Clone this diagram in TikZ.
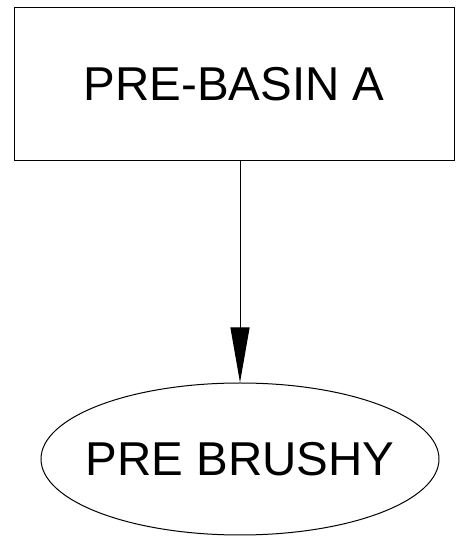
\documentclass[tikz,border=0pt]{standalone}
\usepackage{fontspec}
\setmainfont{Liberation Sans}
\usetikzlibrary{arrows.meta,shapes.geometric,positioning}

\begin{document}
\begin{tikzpicture}[x=1pt,y=1pt,
	every node/.style={font=\fontsize{47.5}{57}\selectfont, inner sep=0pt},
	basinbox/.style={draw, line width=1pt, minimum width=440pt, minimum height=153pt},
	brushyoval/.style={draw, ellipse, line width=1pt, minimum width=398pt, minimum height=152pt},
	flow/.style={line width=1pt, -{Triangle[length=55pt,width=19pt]}}]
			\useasboundingbox (0,0) rectangle (463,553);
			%%%%%%%%%%%%%%%%%%%%%%%%%%%%%%%%
			\node[basinbox] (basin) at (234,468.5){PRE-BASIN A};
			\node[brushyoval, label={[inner sep=0pt]center:PRE BRUSHY}] (brushy) at (240,94){};
			%%%%%%%%%%%%%%%%%%%%%%%%%%%%%
			\draw[flow] (basin.south -| brushy.north)--(brushy.north);
		\end{tikzpicture}
\end{document}
